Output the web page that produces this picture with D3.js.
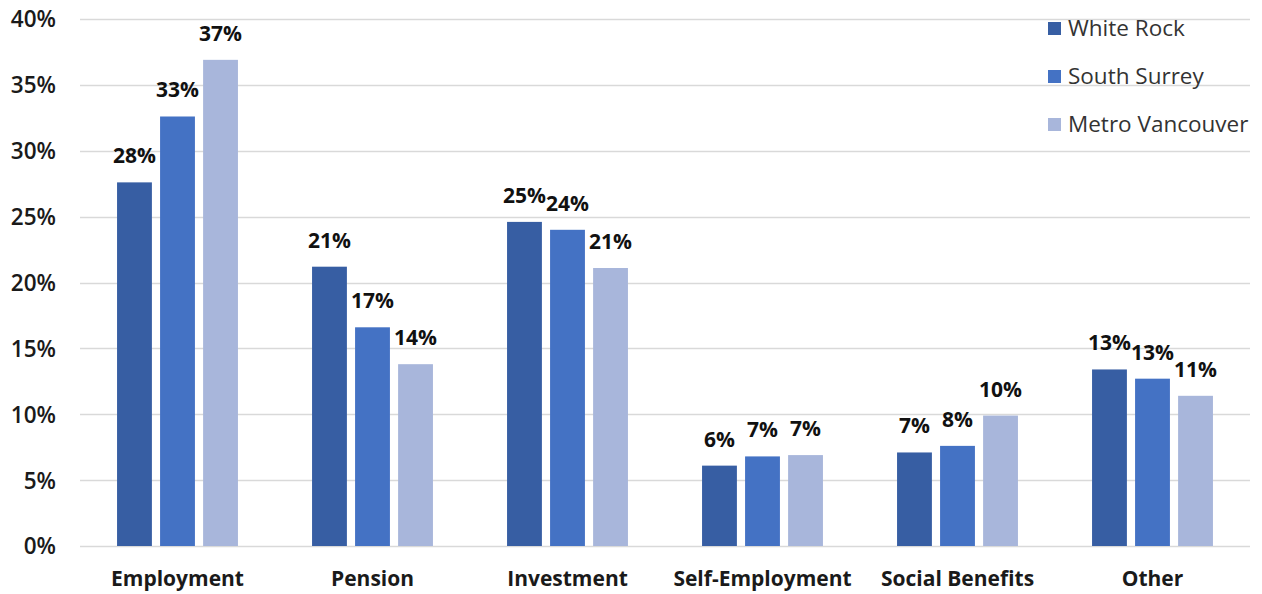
<!DOCTYPE html>
<html>
<head>
<meta charset="utf-8">
<script src="https://cdn.jsdelivr.net/npm/d3@7"></script>
<style>
  html, body { margin: 0; padding: 0; background: #ffffff; }
  svg { display: block; }
</style>
</head>
<body>
<svg id="chart" width="1262" height="594"></svg>
<script>
// Income sources by share of total income
const categories = ["Employment", "Pension", "Investment", "Self-Employment", "Social Benefits", "Other"];
const seriesNames = ["White Rock", "South Surrey", "Metro Vancouver"];
const whiteRock = [27.6, 21.2, 24.6, 6.1, 7.1, 13.4];
const southSurrey = [32.6, 16.6, 24.0, 6.8, 7.6, 12.7];
const metroVancouver = [36.9, 13.8, 21.1, 6.9, 9.9, 11.4];
const yTicks = [0, 5, 10, 15, 20, 25, 30, 35, 40];

const seriesValues = [whiteRock, southSurrey, metroVancouver];
const colors = ["#375EA3", "#4472C4", "#A8B6DB"];

const font = "'Open Sans', 'Noto Sans', sans-serif";
const svg = d3.select("#chart");

const plot = { left: 80, right: 1250, top: 19, bottom: 546 };

const x = d3.scaleBand()
  .domain(categories)
  .range([plot.left, plot.right])
  .paddingInner(0.38)
  .paddingOuter(0.19);

const xs = d3.scaleBand()
  .domain(seriesNames)
  .range([0, x.bandwidth()])
  .paddingInner(0.19)
  .paddingOuter(0);

const y = d3.scaleLinear()
  .domain([0, 40])
  .range([plot.bottom, plot.top]);

// horizontal gridlines
svg.append("g")
  .selectAll("line")
  .data(yTicks)
  .join("line")
  .attr("x1", plot.left)
  .attr("x2", plot.right)
  .attr("y1", d => Math.round(y(d)) + 0.5)
  .attr("y2", d => Math.round(y(d)) + 0.5)
  .attr("stroke", "#D9D9D9")
  .attr("stroke-width", 1.3);

// y-axis labels
const yAxis = svg.append("g")
  .attr("transform", `translate(${plot.left - 24},0)`)
  .call(d3.axisLeft(y).tickValues(yTicks).tickFormat(d => d + "%").tickSize(0).tickPadding(0));
yAxis.select(".domain").remove();
yAxis.selectAll("text")
  .attr("font-family", font)
  .attr("font-size", 22.5)
  .attr("font-weight", 600)
  .attr("fill", "#1a1a1a")
  .attr("dy", "0.35em");

// category labels
const xAxis = svg.append("g")
  .attr("transform", `translate(0,${plot.bottom})`)
  .call(d3.axisBottom(x).tickSize(0).tickPadding(25));
xAxis.select(".domain").remove();
xAxis.selectAll("text")
  .attr("font-family", font)
  .attr("font-size", 21)
  .attr("font-weight", 700)
  .attr("fill", "#1a1a1a");

// bars and value labels
const groups = svg.append("g")
  .selectAll("g")
  .data(categories)
  .join("g")
  .attr("transform", d => `translate(${x(d)},0)`);

const cells = groups.selectAll("g.cell")
  .data((c, ci) => seriesNames.map((s, si) => ({ series: s, si, value: seriesValues[si][ci] })))
  .join("g")
  .attr("class", "cell");

cells.append("rect")
  .attr("x", d => xs(d.series))
  .attr("width", xs.bandwidth())
  .attr("y", d => y(d.value))
  .attr("height", d => y(0) - y(d.value))
  .attr("fill", d => colors[d.si]);

cells.append("text")
  .attr("x", d => xs(d.series) + xs.bandwidth() / 2)
  .attr("y", d => y(d.value) - 19)
  .attr("text-anchor", "middle")
  .attr("font-family", font)
  .attr("font-size", 21)
  .attr("font-weight", 700)
  .attr("fill", "#111")
  .text(d => Math.round(d.value) + "%");

// legend
const legend = svg.append("g")
  .attr("transform", "translate(1048,28)");
const items = legend.selectAll("g")
  .data(seriesNames)
  .join("g")
  .attr("transform", (d, i) => `translate(0,${i * 48})`);
items.append("rect")
  .attr("x", 0)
  .attr("y", -6)
  .attr("width", 13)
  .attr("height", 13)
  .attr("fill", (d, i) => colors[i]);
items.append("text")
  .attr("x", 20)
  .attr("dy", "0.35em")
  .attr("font-family", font)
  .attr("font-size", 22.5)
  .attr("fill", "#333")
  .text(d => d);
</script>
</body>
</html>
